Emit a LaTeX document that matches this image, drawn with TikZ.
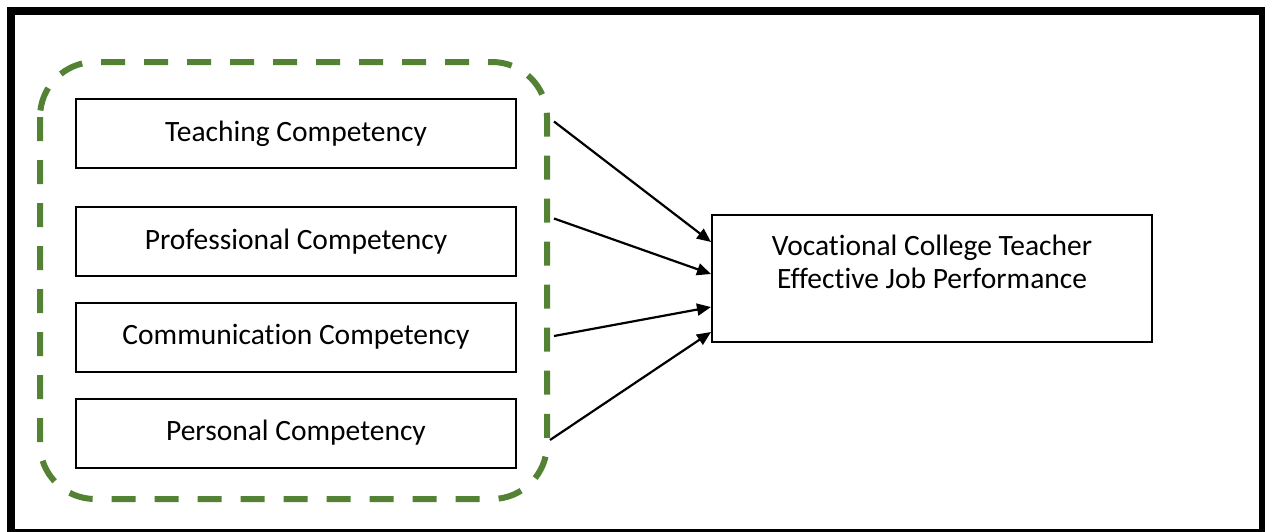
\documentclass[tikz,border=0pt]{standalone}
\usepackage{fontspec}
\setmainfont{Carlito}[Ligatures=NoCommon]
\usetikzlibrary{arrows.meta,positioning,calc}
\definecolor{frameGreen}{HTML}{548235}

\begin{document}
\begin{tikzpicture}[x=0.5pt,y=-0.5pt,>={Triangle[length=7pt,width=6pt]},every node/.style={font=\fontsize{14.75}{16.5}\selectfont},box/.style={draw,line width=1pt,minimum width=220pt,minimum height=34.5pt,align=center},link/.style={->,line width=1.1pt}]
\useasboundingbox (0,0) rectangle (1265,531);
\draw[line width=4pt] (11,11) rectangle (1263,533);
% competency group
\draw[frameGreen,line width=3pt,dash pattern=on 12pt off 9.5pt,rounded corners=27.5pt] (40,62) rectangle (547,499);
\node[box] (T) at (296,133.5) {Teaching Competency};
\node[box] (P) at (296,241.5) {Professional Competency};
\node[box] (C) at (296,337) {Communication Competency};
\node[box] (S) at (296,433) {Personal Competency};
% outcome
\node[box,minimum height=63.5pt] (V) at (932,278.5) {};
\node[anchor=north,align=center] (Vt) at ([yshift=-7pt]V.north) {Vocational College Teacher\\Effective Job Performance};
\coordinate (t1) at ($(T.east)+(37,-12)$);
\coordinate (p1) at ($(P.east)+(37,-23)$);
\coordinate (c1) at ($(C.east)+(37,-1)$);
\coordinate (s1) at ($(S.east)+(33,7)$);
\draw[link] (t1)--($(V.north west)+(0,28)$);
\draw[link] (p1)--($(V.north west)+(0,60)$);
\draw[link] (c1)--($(V.north west)+(0,93)$);
\draw[link] (s1)--($(V.north west)+(0,118)$);
\end{tikzpicture}
\end{document}
